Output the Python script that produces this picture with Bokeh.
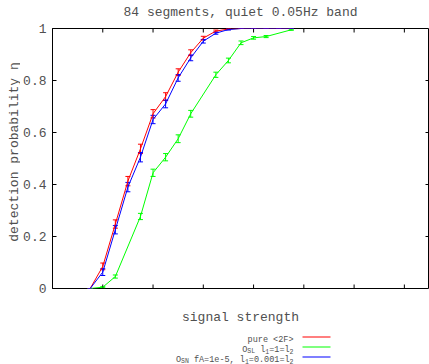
import numpy as np
from bokeh.plotting import figure
from bokeh.layouts import column, row
from bokeh.models import ColumnDataSource, Whisker, TeeHead, FixedTicker
from bokeh.core.properties import value
from bokeh.embed import file_html
from bokeh.resources import INLINE

# ---------------- data ----------------
title_text = "84 segments, quiet 0.05Hz band"
x_label = "signal strength"
y_label = "detection probability \u03b7"

red_x = [0.75, 1.0, 1.25, 1.5, 1.75, 2.0, 2.25, 2.5, 2.75, 3.0, 3.25, 3.5, 3.75, 4.0, 4.25, 4.5, 4.75]
red_y = [0.0, 0.085, 0.248, 0.413, 0.537, 0.672, 0.738, 0.832, 0.907, 0.963, 0.99, 0.998, 1.0, 1.0, 1.0, 1.0, 1.0]
red_err = [0.0, 0.013, 0.016, 0.018, 0.018, 0.016, 0.015, 0.013, 0.011, 0.007, 0.004, 0.002, 0.0, 0.0, 0.0, 0.0, 0.0]

blue_x = [0.75, 1.0, 1.25, 1.5, 1.75, 2.0, 2.25, 2.5, 2.75, 3.0, 3.25, 3.5, 3.75, 4.0, 4.25, 4.5, 4.75]
blue_y = [0.0, 0.063, 0.226, 0.39, 0.505, 0.65, 0.71, 0.81, 0.887, 0.951, 0.982, 0.996, 1.0, 1.0, 1.0, 1.0, 1.0]
blue_err = [0.0, 0.013, 0.016, 0.018, 0.018, 0.016, 0.015, 0.013, 0.011, 0.007, 0.004, 0.002, 0.0, 0.0, 0.0, 0.0, 0.0]

green_x = [0.75, 1.0, 1.25, 1.75, 2.0, 2.25, 2.5, 2.75, 3.25, 3.5, 3.75, 4.0, 4.25, 4.75]
green_y = [0.0, 0.005, 0.046, 0.277, 0.445, 0.505, 0.576, 0.672, 0.822, 0.877, 0.945, 0.964, 0.969, 0.995]
green_err = [0.0, 0.002, 0.006, 0.012, 0.014, 0.014, 0.015, 0.013, 0.01, 0.009, 0.007, 0.005, 0.004, 0.002]

x_ticks = [1, 2, 3, 4, 5, 6, 7]
y_ticks = [0, 0.2, 0.4, 0.6, 0.8, 1]
y_tick_labels = ["0", "0.2", "0.4", "0.6", "0.8", "1"]
x_max = 7.5

legend_entries = [
    ([("pure <2F>", False)], "#ff0000"),
    ([("O", False), ("SL", True), (" l", False), ("1", True), ("=1=l", False), ("2", True)], "#00ff00"),
    ([("O", False), ("SN", True), (" fA=1e-5, l", False), ("1", True), ("=0.001=l", False), ("2", True)], "#0000ff"),
]

# ---------------- style ----------------
FONT = "Liberation Mono"
TXT = "#505050"
FS = 13
W = 429
TITLE_H = 19
MAIN_H = 281
YLAB_W = 20
BOTTOM_H = 364 - TITLE_H - MAIN_H
FRAME_W = 379
FRAME_H = 260
TICK = 4


def strip(w, h):
    f = figure(width=w, height=h, x_range=(0, w), y_range=(0, h), min_border=0,
               x_axis_type=None, y_axis_type=None, output_backend="svg", toolbar_location=None)
    f.xgrid.visible = False
    f.ygrid.visible = False
    f.outline_line_color = None
    f.border_fill_color = "white"
    return f


# title strip
tf = strip(W, TITLE_H)
tf.text(x=[240], y=[TITLE_H - 11.5], text=[title_text], text_font=value(FONT),
        text_font_size=f"{FS}px", text_color=TXT, text_align="center", text_baseline="middle")

# y-label strip
yf = strip(YLAB_W, MAIN_H)
yf.text(x=[14], y=[MAIN_H - 133.5], text=[y_label], text_font=value(FONT),
        text_font_size=f"{FS}px", text_color=TXT, text_align="center", text_baseline="alphabetic",
        angle=np.pi / 2)

# main plot
p = figure(width=W - YLAB_W, height=MAIN_H, x_range=(0, x_max), y_range=(0, 1),
           min_border_left=30, min_border_right=0, min_border_top=9, min_border_bottom=12,
           output_backend="svg", toolbar_location=None)
p.xgrid.visible = False
p.ygrid.visible = False
p.outline_line_color = "black"
p.outline_line_width = 1
p.background_fill_color = "white"
p.border_fill_color = "white"
p.xaxis.visible = False

ya = p.yaxis[0]
ya.ticker = FixedTicker(ticks=y_ticks)
ya.major_label_overrides = {t: s for t, s in zip(y_ticks, y_tick_labels)}
ya.major_tick_in = TICK
ya.major_tick_out = 0
ya.minor_tick_line_color = None
ya.axis_line_color = "black"
ya.major_tick_line_color = "black"
ya.major_label_text_font = FONT
ya.major_label_text_font_size = f"{FS}px"
ya.major_label_text_color = TXT
ya.major_label_standoff = 6

# inward ticks on bottom, top and right edges
dy = TICK / FRAME_H
dx = TICK * x_max / FRAME_W
xt = np.array(x_ticks, dtype=float)
p.segment(x0=xt, y0=np.zeros_like(xt), x1=xt, y1=np.zeros_like(xt) + dy, line_color="black")
p.segment(x0=xt, y0=np.ones_like(xt), x1=xt, y1=np.ones_like(xt) - dy, line_color="black")
yt = np.array(y_ticks[1:-1], dtype=float)
p.segment(x0=np.full_like(yt, x_max), y0=yt, x1=np.full_like(yt, x_max - dx), y1=yt, line_color="black")

series = [
    (green_x, green_y, green_err, "#00ff00"),
    (red_x, red_y, red_err, "#ff0000"),
    (blue_x, blue_y, blue_err, "#0000ff"),
]
for xs, ys, es, col in series:
    ys_a = np.array(ys)
    es_a = np.array(es)
    src = ColumnDataSource(dict(x=xs, y=ys, upper=ys_a + es_a, lower=ys_a - es_a))
    p.line("x", "y", source=src, line_color=col, line_width=1)
    w = Whisker(source=src, base="x", upper="upper", lower="lower",
                line_color=col, line_width=1,
                upper_head=TeeHead(size=5, line_color=col, line_width=1),
                lower_head=TeeHead(size=5, line_color=col, line_width=1))
    p.add_layout(w)

# bottom strip: x label + legend
bf = strip(W, BOTTOM_H)
bf.text(x=[240], y=[BOTTOM_H - 17], text=[x_label], text_font=value(FONT),
        text_font_size=f"{FS}px", text_color=TXT, text_align="center", text_baseline="middle")

LFS = 8.5
LSUB = 6.5
right_edge = 293
row_tops = [36.5, 46.5, 56.5]
for (pieces, col), rt in zip(legend_entries, row_tops):
    yy = BOTTOM_H - rt
    widths = [len(t) * 0.6 * (LSUB if sub else LFS) for t, sub in pieces]
    xx = right_edge - sum(widths)
    for (t, sub), wd in zip(pieces, widths):
        fs = LSUB if sub else LFS
        lead = len(t) - len(t.lstrip(" "))
        bf.text(x=[xx + lead * 0.6 * fs], y=[yy - (4 if sub else 3)], text=[t.lstrip(" ")],
                text_font=value(FONT), text_font_size=f"{fs}px",
                text_color=TXT, text_align="left", text_baseline="alphabetic")
        xx += wd
    bf.segment(x0=[302], y0=[yy], x1=[330], y1=[yy], line_color=col, line_width=1.2)

layout = column(tf, row(yf, p, spacing=0), bf, spacing=0)
open("out.html", "w").write(file_html(layout, INLINE))
